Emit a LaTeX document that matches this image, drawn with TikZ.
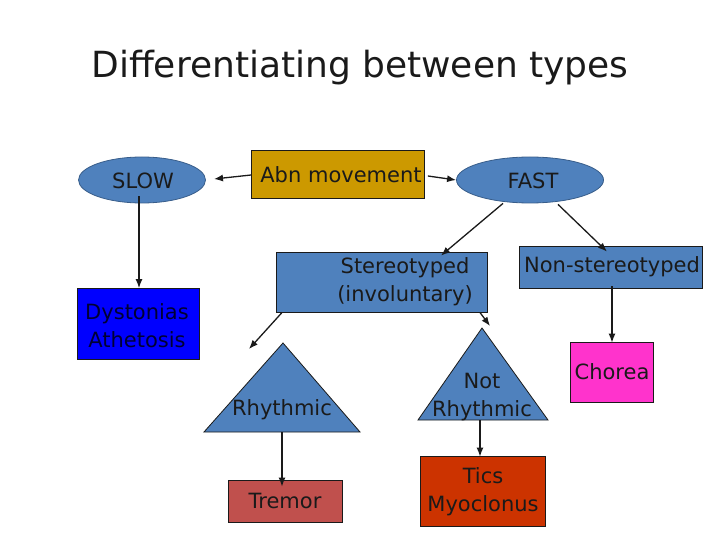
\documentclass[tikz,border=0pt]{standalone}
\usepackage{fontspec}
\setmainfont{DejaVu Sans}
\usetikzlibrary{arrows.meta,shapes.geometric}
\definecolor{slideblue}{HTML}{4F81BD}
\definecolor{ovalline}{HTML}{385D8A}
\definecolor{abngold}{HTML}{CC9900}
\definecolor{dystblue}{HTML}{0000FF}
\definecolor{choreapink}{HTML}{FF33CC}
\definecolor{tremorred}{HTML}{C0504D}
\definecolor{ticsred}{HTML}{CC3300}
\definecolor{ink}{HTML}{1A1A1A}

\begin{document}
\begin{tikzpicture}[x=1pt,y=-1pt,
  lbl/.style={font=\fontsize{21}{28}\selectfont, text=ink, align=center, inner sep=0pt},
  box/.style={draw=ink, line width=0.8pt, inner sep=0pt},
  oval/.style={ellipse, draw=ovalline, line width=0.8pt, fill=slideblue, inner sep=0pt,
    minimum width=127pt, minimum height=46pt},
  tri/.style={draw=ink, line width=0.8pt, fill=slideblue},
  arr/.style={-{Latex[length=9pt,width=7pt]}, line width=1.3pt, draw=ink}]
  \useasboundingbox (0,0) rectangle (720,540);

  % title
  \node[font=\fontsize{36}{42}\selectfont, text=ink] (title) at (360,68) {Differentiating between types};

  % top row
  \node[oval] (slow) at (142,180) {};
  \node[lbl] at (143,181) {SLOW};
  \node[box, fill=abngold, minimum width=173pt, minimum height=48pt] (abn) at (338,174) {};
  \node[lbl] at (341,175) {Abn movement};
  \node[oval, minimum width=147pt] (fast) at (530,180) {};
  \node[lbl] at (533,181) {FAST};

  % second row
  \node[box, fill=dystblue, minimum width=122pt, minimum height=71pt] (dyst) at (138,324) {};
  \node[lbl, text=black!80!blue] at (137,326) {Dystonias\\Athetosis};
  \node[box, fill=slideblue, minimum width=211pt, minimum height=60pt] (stereo) at (382,282) {};
  \node[lbl] at (405,282) {Stereotyped\\(involuntary)};
  \node[box, fill=slideblue, minimum width=183pt, minimum height=42pt] (nonst) at (611,267) {};
  \node[lbl] at (612,267) {Non-stereotyped};

  % triangles
  \draw[tri] (283,343) coordinate (rhytop) -- (360,432) -- (204,432) -- cycle;
  \coordinate (rhybot) at (282,432);
  \node[lbl] at (282,410) {Rhythmic};
  \draw[tri] (482,328) coordinate (nrtop) -- (548,420) -- (418,420) -- cycle;
  \coordinate (nrbot) at (480,420);
  \node[lbl] at (482,397) {Not\\Rhythmic};

  \node[box, fill=choreapink, minimum width=83pt, minimum height=60pt] (chorea) at (612,372) {};
  \node[lbl] at (612,372) {Chorea};

  % bottom row
  \node[box, fill=tremorred, minimum width=114pt, minimum height=42pt] (tremor) at (285,501) {};
  \node[lbl] at (285,501) {Tremor};
  \node[box, fill=ticsred, minimum width=125pt, minimum height=70pt] (tics) at (483,491) {};
  \node[lbl] at (483,492) {Tics\\Myoclonus};

  % free arrow ends
  \coordinate (slowend) at (214,179);
  \coordinate (rhyend) at (249,349);

  % connectors
  \draw[arr] ([yshift=-1]abn.west) -- (slowend);
  \draw[arr] ([yshift=-2]abn.east) ++(3,0) -- (fast.west);
  \draw[arr] ([xshift=-3,yshift=7]slow.south) -- ([xshift=1]dyst.north);
  \draw[arr] ([xshift=-27]fast.south) -- ([xshift=59,yshift=-4]stereo.north);
  \draw[arr] ([xshift=28,yshift=-1]fast.south) -- ([xshift=-4,yshift=-6]nonst.north);
  \draw[arr] ([xshift=1,yshift=2]nonst.south) -- ([yshift=-1]chorea.north);
  \draw[arr] ([xshift=6]stereo.south west) -- (rhyend);
  \draw[arr] ([xshift=-8]stereo.south east) -- ([xshift=8,yshift=2]nrtop);
  \draw[arr] (rhybot) -- ([xshift=-3,yshift=-7]tremor.north);
  \draw[arr] (nrbot) -- ([xshift=-3,yshift=-1]tics.north);
\end{tikzpicture}
\end{document}
